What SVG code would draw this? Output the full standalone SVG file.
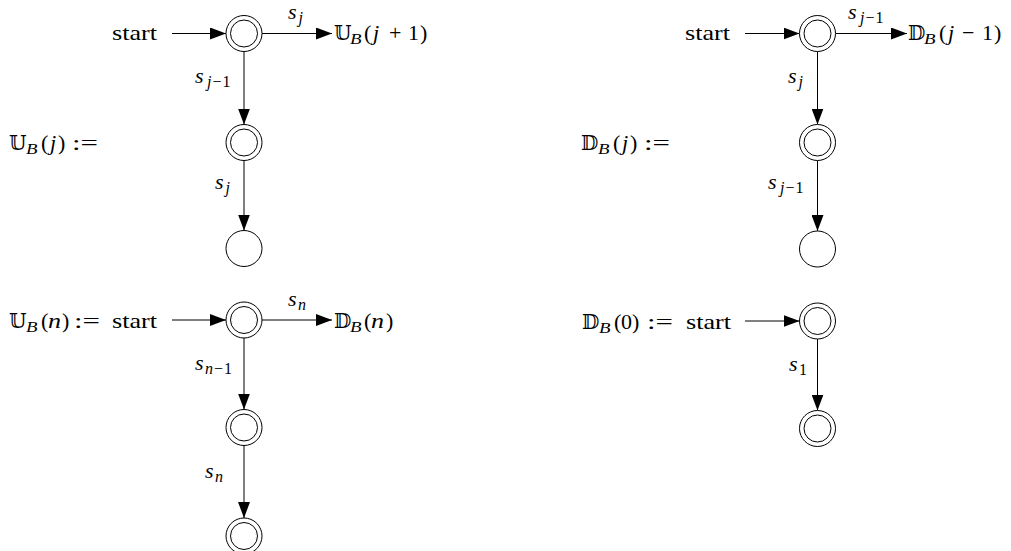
<svg xmlns="http://www.w3.org/2000/svg" width="1011" height="551" viewBox="0 0 1011 551">
<defs>
<marker id="arr" markerUnits="userSpaceOnUse" markerWidth="16" markerHeight="12" refX="16" refY="6" orient="auto">
<path d="M0,0 L16,6 L0,12 z" fill="#000"/>
</marker>
</defs>
<rect width="1011" height="551" fill="#fff"/>

<g id="connectors" stroke="#000" stroke-width="1" fill="none" marker-end="url(#arr)">
<line x1="172" y1="33.5" x2="226" y2="33.5"/>
<line x1="262" y1="33.5" x2="332" y2="33.5"/>
<line x1="244" y1="51.5" x2="244" y2="124.5"/>
<line x1="244" y1="160.5" x2="244" y2="230.5"/>
<line x1="745" y1="33.5" x2="799.5" y2="33.5"/>
<line x1="835.5" y1="33.5" x2="907" y2="33.5"/>
<line x1="817.5" y1="51.5" x2="817.5" y2="124.5"/>
<line x1="817.5" y1="160.5" x2="817.5" y2="231"/>
<line x1="172" y1="320" x2="226" y2="320"/>
<line x1="262" y1="320" x2="332" y2="320"/>
<line x1="244" y1="338" x2="244" y2="409.5"/>
<line x1="244" y1="445.5" x2="244" y2="518"/>
<line x1="745" y1="321" x2="799.5" y2="321"/>
<line x1="817.5" y1="339" x2="817.5" y2="410.5"/>
</g>

<g fill="#fff" stroke="#000" stroke-width="1">
<g id="tl-n1"><circle cx="244" cy="33.5" r="18"/><circle cx="244" cy="33.5" r="13.5"/></g>
<g id="tl-n2"><circle cx="244" cy="142.5" r="18"/><circle cx="244" cy="142.5" r="13.5"/></g>
<g id="tl-n3"><circle cx="244" cy="248.5" r="18"/></g>
<g id="tr-n1"><circle cx="817.5" cy="33.5" r="18"/><circle cx="817.5" cy="33.5" r="13.5"/></g>
<g id="tr-n2"><circle cx="817.5" cy="142.5" r="18"/><circle cx="817.5" cy="142.5" r="13.5"/></g>
<g id="tr-n3"><circle cx="817.5" cy="249" r="18"/></g>
<g id="bl-n1"><circle cx="244" cy="320" r="18"/><circle cx="244" cy="320" r="13.5"/></g>
<g id="bl-n2"><circle cx="244" cy="427.5" r="18"/><circle cx="244" cy="427.5" r="13.5"/></g>
<g id="bl-n3"><circle cx="244" cy="536" r="18"/><circle cx="244" cy="536" r="13.5"/></g>
<g id="br-n1"><circle cx="817.5" cy="321" r="18"/><circle cx="817.5" cy="321" r="13.5"/></g>
<g id="br-n2"><circle cx="817.5" cy="428.5" r="18"/><circle cx="817.5" cy="428.5" r="13.5"/></g>
</g>

<g id="labels" fill="#000">
<!-- top left -->
<text font-family="Liberation Serif" font-size="22" x="157" y="40" text-anchor="end" textLength="45" lengthAdjust="spacingAndGlyphs">start</text>
<text font-family="Liberation Serif" font-size="22" x="288" y="19"><tspan font-style="italic">s</tspan><tspan x="298.5" dy="4" font-size="16" font-style="italic">j</tspan></text>
<text font-family="Liberation Serif" font-size="22" y="40"><tspan x="334" font-family="DejaVu Serif" font-size="20">𝕌</tspan><tspan x="350" dy="4" font-size="15" font-style="italic" textLength="11.5" lengthAdjust="spacingAndGlyphs">B</tspan><tspan x="364" dy="-4">(</tspan><tspan x="373" font-style="italic">j</tspan><tspan x="389">+</tspan><tspan x="408">1</tspan><tspan x="420">)</tspan></text>
<text font-family="Liberation Serif" font-size="22" x="195" y="83"><tspan font-style="italic">s</tspan><tspan x="207" dy="4" font-size="16" letter-spacing="1"><tspan font-style="italic">j</tspan>−1</tspan></text>
<text font-family="Liberation Serif" font-size="22" x="215" y="189"><tspan font-style="italic">s</tspan><tspan x="225.5" dy="4" font-size="16" font-style="italic">j</tspan></text>
<text font-family="Liberation Serif" font-size="22" y="150"><tspan x="9" font-family="DejaVu Serif" font-size="20">𝕌</tspan><tspan x="26" dy="4" font-size="15" font-style="italic" textLength="11.5" lengthAdjust="spacingAndGlyphs">B</tspan><tspan x="41" dy="-4">(</tspan><tspan x="50" font-style="italic">j</tspan><tspan x="58">)</tspan><tspan x="72" textLength="26" lengthAdjust="spacingAndGlyphs">:=</tspan></text>
<!-- top right -->
<text font-family="Liberation Serif" font-size="22" x="730" y="40" text-anchor="end" textLength="45" lengthAdjust="spacingAndGlyphs">start</text>
<text font-family="Liberation Serif" font-size="22" x="848" y="19"><tspan font-style="italic">s</tspan><tspan x="860" dy="4" font-size="16" letter-spacing="1"><tspan font-style="italic">j</tspan>−1</tspan></text>
<text font-family="Liberation Serif" font-size="22" y="40"><tspan x="908" font-family="DejaVu Serif" font-size="20">𝔻</tspan><tspan x="924" dy="4" font-size="15" font-style="italic" textLength="11.5" lengthAdjust="spacingAndGlyphs">B</tspan><tspan x="939" dy="-4">(</tspan><tspan x="948" font-style="italic">j</tspan><tspan x="962">−</tspan><tspan x="982">1</tspan><tspan x="994">)</tspan></text>
<text font-family="Liberation Serif" font-size="22" x="788" y="83"><tspan font-style="italic">s</tspan><tspan x="798.5" dy="4" font-size="16" font-style="italic">j</tspan></text>
<text font-family="Liberation Serif" font-size="22" x="768" y="189"><tspan font-style="italic">s</tspan><tspan x="780" dy="4" font-size="16" letter-spacing="1"><tspan font-style="italic">j</tspan>−1</tspan></text>
<text font-family="Liberation Serif" font-size="22" y="150"><tspan x="581" font-family="DejaVu Serif" font-size="20">𝔻</tspan><tspan x="598" dy="4" font-size="15" font-style="italic" textLength="11.5" lengthAdjust="spacingAndGlyphs">B</tspan><tspan x="613" dy="-4">(</tspan><tspan x="622" font-style="italic">j</tspan><tspan x="630">)</tspan><tspan x="644" textLength="26" lengthAdjust="spacingAndGlyphs">:=</tspan></text>
<!-- bottom left -->
<text font-family="Liberation Serif" font-size="22" y="328"><tspan x="9" font-family="DejaVu Serif" font-size="20">𝕌</tspan><tspan x="26" dy="4" font-size="15" font-style="italic" textLength="11.5" lengthAdjust="spacingAndGlyphs">B</tspan><tspan x="41" dy="-4">(</tspan><tspan x="48" font-style="italic" textLength="13" lengthAdjust="spacingAndGlyphs">n</tspan><tspan x="62">)</tspan><tspan x="74" textLength="26" lengthAdjust="spacingAndGlyphs">:=</tspan></text>
<text font-family="Liberation Serif" font-size="22" x="157" y="328" text-anchor="end" textLength="45" lengthAdjust="spacingAndGlyphs">start</text>
<text font-family="Liberation Serif" font-size="22" x="288" y="306"><tspan font-style="italic">s</tspan><tspan x="298" dy="4" font-size="16" font-style="italic">n</tspan></text>
<text font-family="Liberation Serif" font-size="22" y="328"><tspan x="334" font-family="DejaVu Serif" font-size="20">𝔻</tspan><tspan x="350" dy="4" font-size="15" font-style="italic" textLength="11.5" lengthAdjust="spacingAndGlyphs">B</tspan><tspan x="364" dy="-4">(</tspan><tspan x="371" font-style="italic" textLength="13" lengthAdjust="spacingAndGlyphs">n</tspan><tspan x="386">)</tspan></text>
<text font-family="Liberation Serif" font-size="22" x="195" y="370"><tspan font-style="italic">s</tspan><tspan x="205" dy="4" font-size="16" letter-spacing="1"><tspan font-style="italic">n</tspan>−1</tspan></text>
<text font-family="Liberation Serif" font-size="22" x="205" y="478"><tspan font-style="italic">s</tspan><tspan x="215" dy="4" font-size="16" font-style="italic">n</tspan></text>
<!-- bottom right -->
<text font-family="Liberation Serif" font-size="22" y="329"><tspan x="582" font-family="DejaVu Serif" font-size="20">𝔻</tspan><tspan x="599" dy="4" font-size="15" font-style="italic" textLength="11.5" lengthAdjust="spacingAndGlyphs">B</tspan><tspan x="614" dy="-4">(</tspan><tspan x="621">0</tspan><tspan x="632">)</tspan><tspan x="647" textLength="26" lengthAdjust="spacingAndGlyphs">:=</tspan></text>
<text font-family="Liberation Serif" font-size="22" x="731" y="329" text-anchor="end" textLength="45" lengthAdjust="spacingAndGlyphs">start</text>
<text font-family="Liberation Serif" font-size="22" x="789" y="371"><tspan font-style="italic">s</tspan><tspan x="799" dy="4" font-size="16">1</tspan></text>
</g>
</svg>
